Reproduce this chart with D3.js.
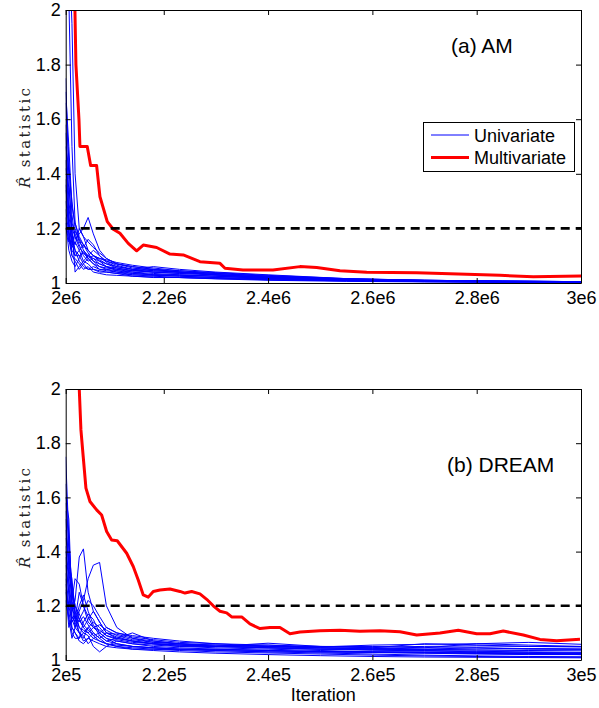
<!DOCTYPE html>
<html><head><meta charset="utf-8">
<script src="https://cdn.jsdelivr.net/npm/d3@7"></script>
<style>body{margin:0;background:#fff} svg{display:block}</style>
</head><body><svg id="c" width="599" height="708"></svg>
<script>
// ---------------- DATA ----------------
const yTicks = [1, 1.2, 1.4, 1.6, 1.8, 2];
const yTickLabels = ["1", "1.2", "1.4", "1.6", "1.8", "2"];
const threshold = 1.2;

// Panel (a) AM
const xTicksA = [2.012e6, 2.2e6, 2.4e6, 2.6e6, 2.8e6, 3e6];
const xTickLabelsA = ["2e6", "2.2e6", "2.4e6", "2.6e6", "2.8e6", "3e6"];
const iterA = [2.012e6, 2.018e6, 2.024e6, 2.03e6, 2.038e6, 2.046e6, 2.055e6, 2.065e6, 2.077e6, 2.09e6,
               2.11e6, 2.14e6, 2.18e6, 2.23e6, 2.3e6, 2.4e6, 2.55e6, 2.7e6, 2.85e6, 3.0e6];
const univariateA = [
  [2.60, 2.05, 1.50, 1.22, 1.16, 1.14, 1.12, 1.10, 1.08, 1.07, 1.06, 1.05, 1.045, 1.04, 1.03, 1.02, 1.012, 1.008, 1.006, 1.005],
  [2.40, 2.25, 1.95, 1.40, 1.20, 1.17, 1.15, 1.13, 1.11, 1.09, 1.07, 1.06, 1.05, 1.04, 1.035, 1.025, 1.015, 1.01, 1.007, 1.005],
  [1.75, 1.38, 1.18, 1.12, 1.10, 1.11, 1.09, 1.07, 1.06, 1.05, 1.045, 1.04, 1.035, 1.03, 1.025, 1.018, 1.01, 1.007, 1.005, 1.004],
  [1.66, 1.45, 1.25, 1.16, 1.18, 1.20, 1.24, 1.18, 1.12, 1.09, 1.07, 1.055, 1.045, 1.04, 1.035, 1.025, 1.014, 1.009, 1.006, 1.005],
  [1.58, 1.30, 1.20, 1.04, 1.06, 1.08, 1.10, 1.09, 1.07, 1.06, 1.05, 1.045, 1.04, 1.035, 1.03, 1.02, 1.012, 1.008, 1.005, 1.004],
  [1.50, 1.42, 1.30, 1.20, 1.15, 1.13, 1.16, 1.14, 1.10, 1.08, 1.065, 1.05, 1.04, 1.035, 1.03, 1.022, 1.013, 1.008, 1.006, 1.004],
  [1.45, 1.25, 1.15, 1.10, 1.12, 1.14, 1.11, 1.08, 1.06, 1.055, 1.05, 1.04, 1.03, 1.025, 1.02, 1.015, 1.01, 1.006, 1.004, 1.003],
  [1.42, 1.35, 1.22, 1.18, 1.14, 1.10, 1.08, 1.09, 1.08, 1.06, 1.045, 1.035, 1.03, 1.028, 1.025, 1.018, 1.01, 1.007, 1.005, 1.003],
  [1.38, 1.20, 1.10, 1.08, 1.05, 1.07, 1.09, 1.10, 1.085, 1.07, 1.055, 1.045, 1.05, 1.04, 1.03, 1.02, 1.012, 1.008, 1.005, 1.004],
  [1.34, 1.28, 1.18, 1.14, 1.20, 1.17, 1.12, 1.10, 1.09, 1.08, 1.07, 1.06, 1.05, 1.045, 1.035, 1.025, 1.015, 1.01, 1.007, 1.005],
  [1.30, 1.22, 1.16, 1.12, 1.08, 1.06, 1.05, 1.06, 1.05, 1.045, 1.04, 1.03, 1.025, 1.02, 1.018, 1.012, 1.008, 1.005, 1.003, 1.002],
  [1.27, 1.18, 1.13, 1.15, 1.12, 1.08, 1.07, 1.05, 1.04, 1.04, 1.035, 1.03, 1.028, 1.025, 1.02, 1.015, 1.009, 1.006, 1.004, 1.003],
  [1.24, 1.15, 1.20, 1.17, 1.13, 1.11, 1.10, 1.12, 1.10, 1.075, 1.06, 1.05, 1.06, 1.05, 1.04, 1.03, 1.016, 1.01, 1.007, 1.005],
  [1.22, 1.12, 1.08, 1.06, 1.09, 1.12, 1.09, 1.07, 1.05, 1.05, 1.04, 1.035, 1.03, 1.03, 1.025, 1.016, 1.01, 1.006, 1.004, 1.003],
  [1.20, 1.16, 1.10, 1.09, 1.07, 1.05, 1.06, 1.04, 1.035, 1.03, 1.028, 1.025, 1.02, 1.02, 1.015, 1.01, 1.006, 1.004, 1.003, 1.002],
  [1.55, 1.22, 1.14, 1.19, 1.16, 1.12, 1.10, 1.08, 1.07, 1.06, 1.055, 1.045, 1.04, 1.04, 1.03, 1.022, 1.013, 1.008, 1.005, 1.004],
  [1.36, 1.17, 1.12, 1.10, 1.10, 1.07, 1.05, 1.05, 1.045, 1.04, 1.035, 1.025, 1.022, 1.02, 1.016, 1.012, 1.008, 1.005, 1.003, 1.002],
  [1.70, 1.50, 1.28, 1.22, 1.17, 1.14, 1.12, 1.10, 1.09, 1.085, 1.075, 1.065, 1.055, 1.045, 1.038, 1.028, 1.016, 1.01, 1.007, 1.005]
];
const multiIterA = [2.024e6, 2.0297e6, 2.0316e6, 2.0374e6, 2.0393e6, 2.0533e6, 2.0598e6, 2.0713e6, 2.0777e6, 2.0917e6,
                    2.1032e6, 2.116e6, 2.1319e6, 2.148e6, 2.1607e6, 2.1864e6, 2.2119e6, 2.2374e6, 2.2694e6, 2.3078e6,
                    2.3174e6, 2.3519e6, 2.4094e6, 2.4612e6, 2.4932e6, 2.5379e6, 2.5891e6, 2.685e6, 2.7488e6, 2.8447e6,
                    2.9085e6, 3.0e6];
const multivariateA = [2.35, 2.0, 1.8, 1.6, 1.5, 1.5, 1.43, 1.43, 1.316, 1.225,
                       1.197, 1.182, 1.145, 1.118, 1.139, 1.13, 1.106, 1.103, 1.078, 1.072,
                       1.054, 1.048, 1.048, 1.06, 1.057, 1.045, 1.039, 1.038, 1.034, 1.028,
                       1.023, 1.026];

// Panel (b) DREAM
const xTicksB = [2.012e5, 2.2e5, 2.4e5, 2.6e5, 2.8e5, 3e5];
const xTickLabelsB = ["2e5", "2.2e5", "2.4e5", "2.6e5", "2.8e5", "3e5"];
const iterB = [2.012e5, 2.018e5, 2.024e5, 2.03e5, 2.038e5, 2.046e5, 2.055e5, 2.065e5, 2.077e5, 2.09e5, 2.11e5,
               2.14e5, 2.18e5, 2.23e5, 2.3e5, 2.4e5, 2.5e5, 2.6e5, 2.7e5, 2.8e5, 2.9e5, 3.0e5];
const univariateB = [
  [1.75, 1.45, 1.25, 1.18, 1.15, 1.12, 1.10, 1.08, 1.07, 1.06, 1.055, 1.05, 1.045, 1.04, 1.04, 1.035, 1.03, 1.028, 1.025, 1.022, 1.02, 1.02],
  [1.60, 1.52, 1.20, 1.15, 1.25, 1.20, 1.16, 1.12, 1.10, 1.08, 1.07, 1.06, 1.055, 1.05, 1.045, 1.04, 1.035, 1.03, 1.03, 1.028, 1.025, 1.024],
  [1.55, 1.30, 1.18, 1.22, 1.38, 1.41, 1.25, 1.18, 1.14, 1.10, 1.08, 1.07, 1.06, 1.055, 1.05, 1.062, 1.05, 1.045, 1.04, 1.045, 1.04, 1.04],
  [1.48, 1.35, 1.30, 1.16, 1.10, 1.08, 1.12, 1.09, 1.07, 1.06, 1.05, 1.045, 1.04, 1.038, 1.035, 1.03, 1.026, 1.022, 1.018, 1.015, 1.013, 1.012],
  [1.42, 1.28, 1.15, 1.12, 1.18, 1.22, 1.30, 1.35, 1.36, 1.20, 1.12, 1.08, 1.065, 1.06, 1.055, 1.05, 1.048, 1.055, 1.058, 1.06, 1.055, 1.05],
  [1.38, 1.24, 1.12, 1.10, 1.08, 1.14, 1.17, 1.15, 1.10, 1.08, 1.06, 1.05, 1.045, 1.04, 1.038, 1.035, 1.03, 1.03, 1.028, 1.025, 1.024, 1.022],
  [1.32, 1.20, 1.14, 1.16, 1.12, 1.10, 1.09, 1.05, 1.03, 1.05, 1.07, 1.06, 1.05, 1.045, 1.04, 1.035, 1.032, 1.03, 1.028, 1.026, 1.024, 1.02],
  [1.28, 1.18, 1.10, 1.08, 1.08, 1.10, 1.12, 1.14, 1.12, 1.09, 1.075, 1.065, 1.06, 1.055, 1.05, 1.045, 1.04, 1.042, 1.045, 1.06, 1.065, 1.058],
  [1.25, 1.20, 1.22, 1.30, 1.28, 1.20, 1.14, 1.12, 1.13, 1.11, 1.09, 1.075, 1.065, 1.06, 1.05, 1.045, 1.04, 1.038, 1.035, 1.032, 1.03, 1.028],
  [1.45, 1.38, 1.28, 1.20, 1.15, 1.18, 1.22, 1.20, 1.16, 1.12, 1.10, 1.09, 1.08, 1.07, 1.06, 1.05, 1.05, 1.048, 1.05, 1.052, 1.05, 1.048],
  [1.65, 1.40, 1.20, 1.12, 1.10, 1.07, 1.08, 1.10, 1.08, 1.06, 1.05, 1.04, 1.04, 1.035, 1.03, 1.026, 1.022, 1.018, 1.015, 1.013, 1.011, 1.01],
  [1.35, 1.25, 1.16, 1.14, 1.20, 1.24, 1.18, 1.13, 1.09, 1.07, 1.08, 1.10, 1.07, 1.06, 1.05, 1.045, 1.04, 1.036, 1.034, 1.03, 1.028, 1.026],
  [1.30, 1.15, 1.08, 1.12, 1.15, 1.12, 1.15, 1.18, 1.14, 1.10, 1.085, 1.07, 1.06, 1.05, 1.05, 1.048, 1.045, 1.04, 1.038, 1.036, 1.035, 1.034],
  [1.52, 1.35, 1.22, 1.16, 1.14, 1.16, 1.13, 1.10, 1.08, 1.10, 1.095, 1.08, 1.07, 1.06, 1.055, 1.05, 1.045, 1.045, 1.06, 1.055, 1.05, 1.05],
  [1.22, 1.15, 1.12, 1.10, 1.07, 1.06, 1.08, 1.07, 1.06, 1.05, 1.045, 1.04, 1.035, 1.03, 1.025, 1.02, 1.016, 1.013, 1.011, 1.01, 1.009, 1.008],
  [1.40, 1.32, 1.25, 1.18, 1.12, 1.11, 1.10, 1.12, 1.11, 1.09, 1.08, 1.07, 1.06, 1.055, 1.05, 1.055, 1.045, 1.04, 1.038, 1.04, 1.042, 1.04],
  [1.58, 1.44, 1.26, 1.20, 1.17, 1.13, 1.11, 1.09, 1.10, 1.12, 1.10, 1.085, 1.075, 1.065, 1.06, 1.055, 1.05, 1.05, 1.045, 1.045, 1.042, 1.04],
  [1.26, 1.12, 1.16, 1.14, 1.10, 1.09, 1.06, 1.08, 1.09, 1.07, 1.06, 1.05, 1.045, 1.04, 1.035, 1.03, 1.03, 1.028, 1.026, 1.024, 1.022, 1.02]
];
const multiIterB = [2.0375e5, 2.038e5, 2.0412e5, 2.0456e5, 2.0508e5, 2.0585e5, 2.0713e5, 2.0809e5, 2.0905e5, 2.1001e5,
                    2.1108e5, 2.1289e5, 2.1415e5, 2.1511e5, 2.1607e5, 2.1703e5, 2.1799e5, 2.1927e5, 2.2119e5, 2.2311e5,
                    2.2407e5, 2.2535e5, 2.2694e5, 2.2823e5, 2.2949e5, 2.3078e5, 2.3206e5, 2.3302e5, 2.3494e5, 2.3653e5,
                    2.3845e5, 2.4036e5, 2.4228e5, 2.442e5, 2.4612e5, 2.4995e5, 2.5379e5, 2.5762e5, 2.6146e5, 2.6529e5,
                    2.685e5, 2.7296e5, 2.7647e5, 2.8e5, 2.8255e5, 2.851e5, 2.8894e5, 2.9214e5, 2.9534e5, 2.9981e5];
const multivariateB = [2.1, 2.0, 1.849, 1.75, 1.634, 1.585, 1.554, 1.535, 1.474, 1.443,
                       1.44, 1.394, 1.345, 1.295, 1.24, 1.232, 1.253, 1.258, 1.262, 1.253,
                       1.247, 1.253, 1.244, 1.224, 1.2, 1.18, 1.174, 1.159, 1.159, 1.133,
                       1.116, 1.12, 1.12, 1.097, 1.103, 1.108, 1.11, 1.106, 1.108, 1.104,
                       1.092, 1.1, 1.11, 1.097, 1.097, 1.107, 1.092, 1.076, 1.071, 1.077];

// ---------------- DRAW ----------------
const svg = d3.select("#c");
svg.append("rect").attr("width", 599).attr("height", 708).attr("fill", "#fff");
const SANS = '"Liberation Sans", Arial, Helvetica, sans-serif';

const panels = [
  {id: "a", top: 10, bottom: 283, xt: xTicksA, xl: xTickLabelsA, iter: iterA, uni: univariateA,
   mx: multiIterA, my: multivariateA, title: "(a) AM", tx: 451, ty: 53, legend: true, xlabel: false, labY: 138},
  {id: "b", top: 389, bottom: 660, xt: xTicksB, xl: xTickLabelsB, iter: iterB, uni: univariateB,
   mx: multiIterB, my: multivariateB, title: "(b) DREAM", tx: 447, ty: 472, legend: false, xlabel: true, labY: 518}
];
const L = 65.7, R = 581;

panels.forEach(p => {
  const x = d3.scaleLinear().domain([p.xt[0], p.xt[p.xt.length - 1]]).range([L, R]);
  const y = d3.scaleLinear().domain([1, 2]).range([p.bottom, p.top]);
  const g = svg.append("g");

  g.append("clipPath").attr("id", "clip" + p.id)
    .append("rect").attr("x", L).attr("y", p.top).attr("width", R - L).attr("height", p.bottom - p.top);

  const plot = g.append("g").attr("clip-path", `url(#clip${p.id})`);
  const line = d3.line().x(d => x(d[0])).y(d => y(d[1]));

  p.uni.forEach(s => {
    plot.append("path").attr("d", line(p.iter.map((it, i) => [it, s[i]])))
      .attr("fill", "none").attr("stroke", "#0000ff").attr("stroke-width", 1)
      .attr("stroke-linejoin", "round");
  });
  plot.append("path").attr("d", line(p.mx.map((it, i) => [it, p.my[i]])))
    .attr("fill", "none").attr("stroke", "#ff0000").attr("stroke-width", 3)
    .attr("stroke-linejoin", "round");
  plot.append("path").attr("d", line([[p.xt[0], threshold], [p.xt[p.xt.length - 1], threshold]]))
    .attr("fill", "none").attr("stroke", "#000").attr("stroke-width", 2.6)
    .attr("stroke-dasharray", "9,6");

  // axes
  const styleAxis = sel => {
    sel.attr("font-family", SANS).attr("font-size", 18);
    sel.selectAll("path, line").attr("stroke", "#000").attr("stroke-width", 1);
    sel.selectAll("text").attr("fill", "#000");
  };
  g.append("g").attr("transform", `translate(0,${p.bottom})`)
    .call(d3.axisBottom(x).tickValues(p.xt).tickFormat((d, i) => p.xl[i])
      .tickSizeInner(-5).tickSizeOuter(0).tickPadding(8)).call(styleAxis);
  g.append("g").attr("transform", `translate(0,${p.top})`)
    .call(d3.axisTop(x).tickValues(p.xt).tickFormat("")
      .tickSizeInner(-5).tickSizeOuter(0)).call(styleAxis);
  g.append("g").attr("transform", `translate(${L},0)`)
    .call(d3.axisLeft(y).tickValues(yTicks).tickFormat((d, i) => yTickLabels[i])
      .tickSizeInner(-5).tickSizeOuter(0).tickPadding(5)).call(styleAxis);
  g.append("g").attr("transform", `translate(${R},0)`)
    .call(d3.axisRight(y).tickValues(yTicks).tickFormat("")
      .tickSizeInner(-5).tickSizeOuter(0)).call(styleAxis);

  // y label
  const ylab = g.append("text")
    .attr("transform", `translate(30,${p.labY}) rotate(-90)`)
    .attr("text-anchor", "middle")
    .attr("font-family", '"DejaVu Serif", "Liberation Serif", serif')
    .attr("font-size", 15).attr("fill", "#222")
    .attr("textLength", 100).attr("lengthAdjust", "spacing");
  ylab.append("tspan").attr("font-style", "italic").text("R\u0302");
  ylab.append("tspan").text(" statistic");

  // title
  g.append("text").attr("x", p.tx).attr("y", p.ty)
    .attr("font-family", SANS).attr("font-size", 21).attr("fill", "#000").text(p.title);

  if (p.xlabel) {
    g.append("text").attr("x", (L + R) / 2).attr("y", 701)
      .attr("text-anchor", "middle").attr("font-family", SANS).attr("font-size", 18)
      .attr("fill", "#000").text("Iteration");
  }

  if (p.legend) {
    const lg = g.append("g");
    lg.append("rect").attr("x", 423.5).attr("y", 122.5).attr("width", 151).attr("height", 49)
      .attr("fill", "#fff").attr("stroke", "#000").attr("stroke-width", 1);
    const items = [
      {label: "Univariate", color: "#0000ff", w: 1, yy: 135},
      {label: "Multivariate", color: "#ff0000", w: 3, yy: 157.5}
    ];
    items.forEach(it => {
      lg.append("line").attr("x1", 431).attr("x2", 469).attr("y1", it.yy).attr("y2", it.yy)
        .attr("stroke", it.color).attr("stroke-width", it.w);
      lg.append("text").attr("x", 474).attr("y", it.yy + 6.5)
        .attr("font-family", SANS).attr("font-size", 18).attr("fill", "#000").text(it.label);
    });
  }
});
</script></body></html>
